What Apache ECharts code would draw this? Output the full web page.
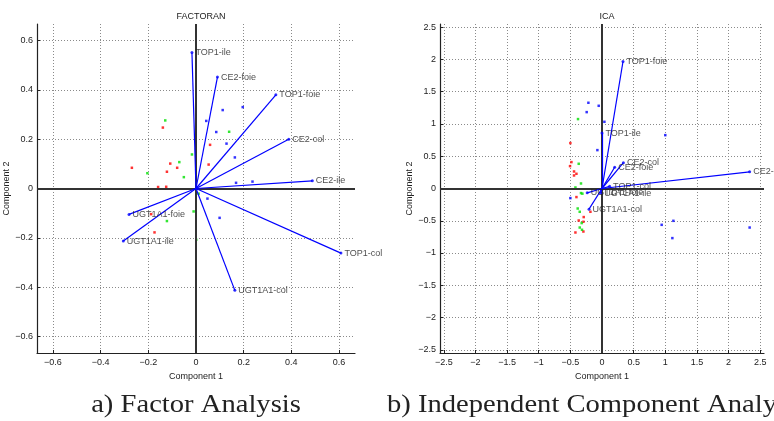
<!DOCTYPE html>
<html>
<head>
<meta charset="utf-8">
<script src="https://cdn.jsdelivr.net/npm/echarts@6/dist/echarts.min.js"></script>
<style>
html,body{margin:0;padding:0;background:#fff;}
#c{width:774px;height:421px;}
</style>
</head>
<body>
<div id="c"></div>
<script>
// ---------- FACTORAN (left) ----------
const varNames = ['TOP1-ile','CE2-foie','TOP1-foie','CE2-col','CE2-ile','TOP1-col','UGT1A1-col','UGT1A1-foie','UGT1A1-ile'];
const faLoadX = [-0.017, 0.090, 0.335, 0.389, 0.488, 0.608, 0.163, -0.281, -0.305];
const faLoadY = [ 0.551, 0.452, 0.380, 0.200, 0.031, -0.262, -0.413, -0.105, -0.213];
const faRedX = [-0.139, 0.059, 0.053, -0.269, -0.108, -0.079, -0.122, -0.159, -0.125, -0.188, -0.174];
const faRedY = [ 0.247, 0.177, 0.097, 0.084, 0.101, 0.084, 0.068, 0.006, 0.007, -0.104, -0.178];
const faGreenX = [-0.129, 0.139, -0.070, -0.204, -0.051, -0.017, 0.001, 0.011, -0.010, -0.122, 0.001];
const faGreenY = [ 0.276, 0.230, 0.107, 0.062, 0.046, 0.138, 0.000, -0.021, -0.093, -0.132, -0.208];
const faBlueX = [0.112, 0.196, 0.043, 0.085, 0.128, 0.163, 0.168, 0.237, 0.048, 0.099];
const faBlueY = [0.318, 0.330, 0.274, 0.229, 0.182, 0.126, 0.023, 0.028, -0.041, -0.119];
const faTicks = [-0.6, -0.4, -0.2, 0, 0.2, 0.4, 0.6];
const faLim = 0.667;

// ---------- ICA (right) ----------
const icaLoadX = [0.000, 0.200, 0.332, 0.338, 2.333, 0.120, -0.205, -0.234, -0.020];
const icaLoadY = [0.860, 0.330, 1.969, 0.400, 0.259, 0.035, -0.320, -0.067, -0.070];
const icaRedX = [-0.500, -0.483, -0.505, -0.442, -0.404, -0.442, -0.404, -0.183, -0.289, -0.368, -0.294, -0.420, -0.294];
const icaRedY = [ 0.704, 0.409, 0.347, 0.264, 0.228, 0.202, -0.133, -0.361, -0.443, -0.496, -0.516, -0.682, -0.667];
const icaGreenX = [-0.379, -0.368, -0.332, -0.420, -0.332, -0.310, -0.384, -0.352, -0.321, -0.352, -0.316];
const icaGreenY = [ 1.076, 0.383, 0.078, 0.016, -0.071, -0.080, -0.310, -0.361, -0.536, -0.605, -0.640];
const icaBlueX = [-0.215, -0.052, -0.242, 0.038, 1.000, -0.073, -0.500, 0.943, 1.128, 1.112, 2.333];
const icaBlueY = [ 1.329, 1.282, 1.184, 1.034, 0.827, 0.595, -0.149, -0.563, -0.501, -0.769, -0.605];
const icaTicks = [-2.5, -2, -1.5, -1, -0.5, 0, 0.5, 1, 1.5, 2, 2.5];
const icaLimX = 2.56;
const icaLimY = 2.55;

const titles = ['FACTORAN', 'ICA'];
const captions = ['a) Factor Analysis', 'b) Independent Component Analysis'];

const SANS = '"Liberation Sans Narrow","Liberation Sans",Arial,sans-serif';
const zip = (xs, ys) => xs.map((x, i) => [x, ys[i]]);
const fmt = v => String(Math.round(v * 10) / 10).replace('-', '\u2212');

function makeAxis(dim, gridIndex, lim, ticks, name, nameGap) {
  return {
    type: 'value', gridIndex: gridIndex, min: -lim, max: lim,
    name: name, nameLocation: 'middle', nameGap: nameGap,
    nameTextStyle: {fontFamily: SANS, fontSize: 9, color: '#222'},
    axisLine: {show: true, onZero: false, lineStyle: {color: '#222', width: 1.2}},
    axisTick: {show: true, inside: true, length: 3, customValues: ticks, lineStyle: {color: '#222'}},
    axisLabel: {show: true, customValues: ticks, formatter: fmt, fontFamily: SANS, fontSize: 9, color: '#222', margin: dim === 'x' ? 5 : 4, showMinLabel: true, showMaxLabel: true},
    splitLine: {show: true, lineStyle: {color: '#8a8a8a', width: 1, type: [1, 2]}}
  };
}

function panelSeries(gi, loadX, loadY, redX, redY, greenX, greenY, blueX, blueY) {
  const pts = (xs, ys, color) => ({
    type: 'scatter', xAxisIndex: gi, yAxisIndex: gi, symbol: 'rect', symbolSize: 2.5,
    itemStyle: {color: color}, data: zip(xs, ys), z: 4, silent: true
  });
  return [
    {
      type: 'scatter', xAxisIndex: gi, yAxisIndex: gi, data: [], silent: true, z: 2,
      markLine: {
        silent: true, symbol: ['none', 'none'], label: {show: false},
        lineStyle: {color: '#333', width: 2, type: 'solid'},
        data: [{xAxis: 0}, {yAxis: 0}]
      }
    },
    pts(redX, redY, '#ff0000'),
    pts(greenX, greenY, '#00e000'),
    pts(blueX, blueY, '#0000ff'),
    {
      type: 'lines', coordinateSystem: 'cartesian2d', xAxisIndex: gi, yAxisIndex: gi, z: 5, silent: true,
      lineStyle: {color: '#0000ff', width: 1.2, opacity: 1},
      data: varNames.map((n, i) => ({coords: [[0, 0], [loadX[i], loadY[i]]]}))
    },
    {
      type: 'scatter', xAxisIndex: gi, yAxisIndex: gi, symbol: 'circle', symbolSize: 3, z: 6, silent: true,
      itemStyle: {color: '#0000ff'},
      label: {show: true, position: 'right', distance: 2, offset: [0, -3], formatter: p => p.name,
              fontFamily: SANS, fontSize: 9, color: '#222'},
      labelLayout: {hideOverlap: false},
      data: varNames.map((n, i) => ({name: n, value: [loadX[i], loadY[i]]}))
    }
  ];
}

const chart = echarts.init(document.getElementById('c'), null, {renderer: 'canvas'});
chart.setOption({
  animation: false,
  backgroundColor: '#fff',
  title: [
    {text: titles[0], left: 196, top: 7, textAlign: 'center', textStyle: {fontFamily: SANS, fontSize: 9, fontWeight: 'normal', color: '#222'}},
    {text: titles[1], left: 602, top: 7, textAlign: 'center', textStyle: {fontFamily: SANS, fontSize: 9, fontWeight: 'normal', color: '#222'}}
  ],
  grid: [
    {left: 37, top: 24, width: 318, height: 329, containLabel: false},
    {left: 440, top: 24, width: 324, height: 329, containLabel: false}
  ],
  xAxis: [
    makeAxis('x', 0, faLim, faTicks, 'Component 1', 19),
    makeAxis('x', 1, icaLimX, icaTicks, 'Component 1', 19)
  ],
  yAxis: [
    makeAxis('y', 0, faLim, faTicks, 'Component 2', 24),
    makeAxis('y', 1, icaLimY, icaTicks, 'Component 2', 22)
  ],
  series: [].concat(
    panelSeries(0, faLoadX, faLoadY, faRedX, faRedY, faGreenX, faGreenY, faBlueX, faBlueY),
    panelSeries(1, icaLoadX, icaLoadY, icaRedX, icaRedY, icaGreenX, icaGreenY, icaBlueX, icaBlueY)
  ),
  graphic: [
    {type: 'text', x: 196, y: 405, scaleX: 1.1, silent: true,
     style: {text: captions[0], fontFamily: '"Liberation Serif","Times New Roman",serif', fontSize: 26, fill: '#222', align: 'center', verticalAlign: 'middle'}},
    {type: 'text', x: 387, y: 405, scaleX: 1.1, silent: true,
     style: {text: captions[1], fontFamily: '"Liberation Serif","Times New Roman",serif', fontSize: 26, fill: '#222', align: 'left', verticalAlign: 'middle'}}
  ]
});
</script>
</body>
</html>
